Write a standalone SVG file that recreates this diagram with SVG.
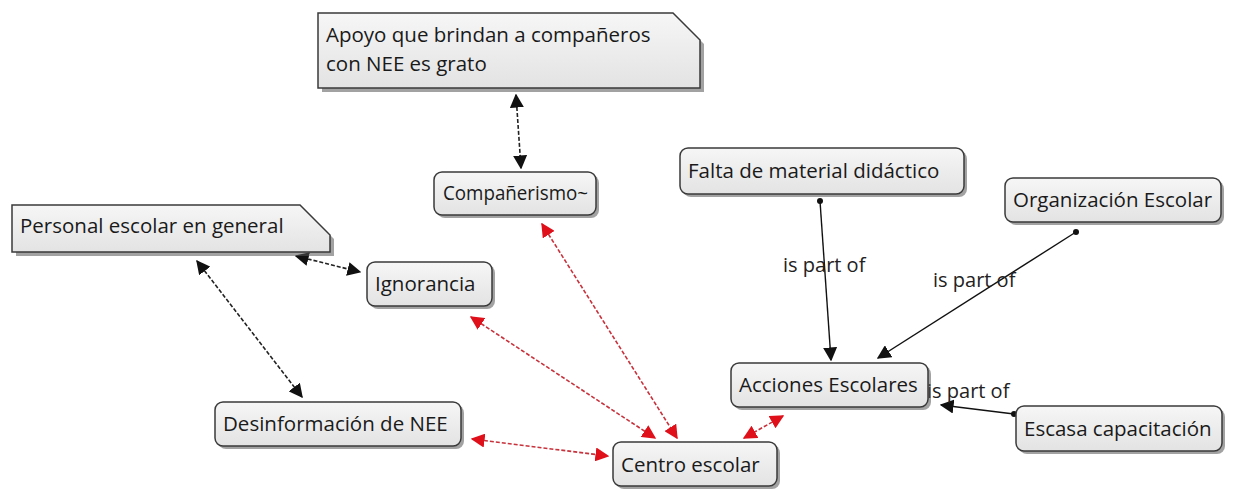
<svg xmlns="http://www.w3.org/2000/svg" width="1233" height="491" viewBox="0 0 1233 491">
<style>
.box{fill:url(#g);stroke:#3a3a3a;stroke-width:1.5}
.sh{fill:#555;opacity:0.55}
.t{font-family:"Open Sans","DejaVu Sans",sans-serif;font-size:20.5px;fill:#1a1a1a}
.lb{font-family:"Open Sans","DejaVu Sans",sans-serif;font-size:20px;fill:#222}
.dk{stroke:#222;stroke-width:1.6;stroke-dasharray:4 2;fill:none}
.rd{stroke:#c8323c;stroke-width:1.6;stroke-dasharray:4 2;fill:none}
.sl{stroke:#111;stroke-width:1.4;fill:none}
</style>
<defs>
<linearGradient id="g" x1="0" y1="0" x2="0" y2="1"><stop offset="0" stop-color="#f6f6f6"/><stop offset="1" stop-color="#e3e3e3"/></linearGradient>
<marker id="ab" viewBox="0 0 10 10" refX="9" refY="5" markerWidth="14" markerHeight="14" markerUnits="userSpaceOnUse" orient="auto-start-reverse"><path d="M0,0 L10,5 L0,10 z" fill="#111"/></marker>
<marker id="ar" viewBox="0 0 10 10" refX="9" refY="5" markerWidth="14" markerHeight="14" markerUnits="userSpaceOnUse" orient="auto-start-reverse"><path d="M0,0 L10,5 L0,10 z" fill="#e0101a"/></marker>
<marker id="dot" viewBox="0 0 6 6" refX="3" refY="3" markerWidth="6" markerHeight="6" markerUnits="userSpaceOnUse"><circle cx="3" cy="3" r="3" fill="#111"/></marker>
</defs>
<rect width="1233" height="491" fill="#fff"/>
<g id="connectors">
<line class="dk" x1="516" y1="95" x2="521" y2="168" marker-start="url(#ab)" marker-end="url(#ab)"/>
<line class="dk" x1="296" y1="256" x2="360" y2="272" marker-start="url(#ab)" marker-end="url(#ab)"/>
<line class="dk" x1="197" y1="261" x2="302" y2="397" marker-start="url(#ab)" marker-end="url(#ab)"/>
<line class="rd" x1="542" y1="224" x2="677" y2="438" marker-start="url(#ar)" marker-end="url(#ar)"/>
<line class="rd" x1="471" y1="317" x2="655" y2="438" marker-start="url(#ar)" marker-end="url(#ar)"/>
<line class="rd" x1="472" y1="439" x2="608" y2="456" marker-start="url(#ar)" marker-end="url(#ar)"/>
<line class="rd" x1="783" y1="416" x2="744" y2="438" marker-start="url(#ar)" marker-end="url(#ar)"/>
<line class="sl" x1="820" y1="201" x2="831" y2="360" marker-start="url(#dot)" marker-end="url(#ab)"/>
<line class="sl" x1="1076" y1="232" x2="878" y2="358" marker-start="url(#dot)" marker-end="url(#ab)"/>
<line class="sl" x1="1014" y1="414" x2="941" y2="405" marker-start="url(#dot)" marker-end="url(#ab)"/>
<text class="lb" x="783" y="272">is part of</text>
<text class="lb" x="933" y="287">is part of</text>
<text class="lb" x="927" y="398">is part of</text>
</g>
<g id="n-apoyo">
<path class="sh" d="M322,17 H677 L704,44 V92 H322 z"/>
<path class="box" d="M318,13 H673 L700,40 V88 H318 z"/>
<text class="t" x="326" y="42">Apoyo que brindan a compañeros</text>
<text class="t" x="326" y="71">con NEE es grato</text>
</g>
<g id="n-personal">
<path class="sh" d="M16,209 H304 L334,239 V256 H16 z"/>
<path class="box" d="M12,205 H300 L330,235 V252 H12 z"/>
<text class="t" x="20" y="233">Personal escolar en general</text>
</g>
<g id="n-comp">
<rect class="sh" x="437" y="175" width="162" height="43" rx="8"/>
<rect class="box" x="434" y="172" width="162" height="43" rx="8"/>
<text class="t" x="443" y="200" textLength="145" lengthAdjust="spacingAndGlyphs">Compañerismo~</text>
</g>
<g id="n-ign">
<rect class="sh" x="370" y="265" width="125" height="44" rx="8"/>
<rect class="box" x="367" y="262" width="125" height="44" rx="8"/>
<text class="t" x="375" y="291">Ignorancia</text>
</g>
<g id="n-falta">
<rect class="sh" x="683" y="151" width="284" height="46" rx="8"/>
<rect class="box" x="680" y="148" width="284" height="46" rx="8"/>
<text class="t" x="688" y="178">Falta de material didáctico</text>
</g>
<g id="n-org">
<rect class="sh" x="1008" y="181" width="216" height="44" rx="8"/>
<rect class="box" x="1005" y="178" width="216" height="44" rx="8"/>
<text class="t" x="1013" y="207">Organización Escolar</text>
</g>
<g id="n-acc">
<rect class="sh" x="734" y="366" width="197" height="44" rx="8"/>
<rect class="box" x="731" y="363" width="197" height="44" rx="8"/>
<text class="t" x="739" y="392">Acciones Escolares</text>
</g>
<g id="n-esc">
<rect class="sh" x="1019" y="409" width="206" height="45" rx="8"/>
<rect class="box" x="1016" y="406" width="206" height="45" rx="8"/>
<text class="t" x="1024" y="436">Escasa capacitación</text>
</g>
<g id="n-des">
<rect class="sh" x="218" y="405" width="246" height="44" rx="8"/>
<rect class="box" x="215" y="402" width="246" height="44" rx="8"/>
<text class="t" x="223" y="431">Desinformación de NEE</text>
</g>
<g id="n-centro">
<rect class="sh" x="616" y="445" width="164" height="44" rx="8"/>
<rect class="box" x="613" y="442" width="164" height="44" rx="8"/>
<text class="t" x="621" y="472">Centro escolar</text>
</g>
</svg>
